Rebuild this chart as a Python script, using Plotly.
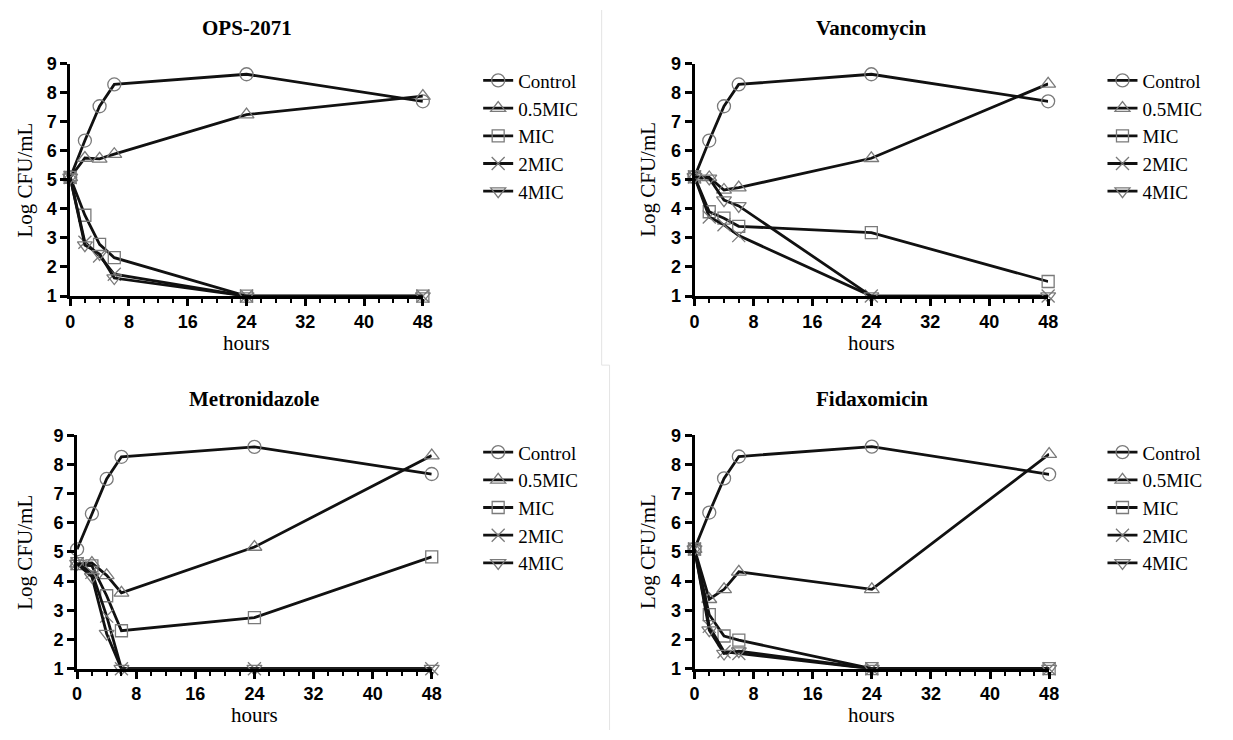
import plotly.graph_objects as go

hours = [0, 2, 4, 6, 24, 48]
series_names = ["Control", "0.5MIC", "MIC", "2MIC", "4MIC"]
panel_titles = ["OPS-2071", "Vancomycin", "Metronidazole", "Fidaxomicin"]
x_ticks = [0, 8, 16, 24, 32, 40, 48]
y_ticks = [1, 2, 3, 4, 5, 6, 7, 8, 9]

ops_control = [5.08, 6.35, 7.53, 8.28, 8.63, 7.70]
ops_half = [5.08, 5.75, 5.72, 5.88, 7.24, 7.88]
ops_mic = [5.08, 3.78, 2.78, 2.32, 1.0, 1.0]
ops_2mic = [5.08, 2.85, 2.38, 1.75, 1.0, 1.0]
ops_4mic = [5.08, 2.75, 2.45, 1.62, 1.0, 1.0]

van_control = [5.10, 6.35, 7.53, 8.28, 8.63, 7.70]
van_half = [5.10, 5.08, 4.65, 4.73, 5.74, 8.30]
van_mic = [5.10, 3.90, 3.68, 3.40, 3.18, 1.50]
van_2mic = [5.10, 3.72, 3.45, 3.08, 1.0, 1.0]
van_4mic = [5.10, 5.05, 4.30, 4.10, 1.0, 1.0]

met_control = [5.09, 6.31, 7.50, 8.26, 8.60, 7.67]
met_half = [4.60, 4.62, 4.20, 3.60, 5.17, 8.30]
met_mic = [4.60, 4.52, 3.50, 2.30, 2.75, 4.83]
met_2mic = [4.60, 4.30, 2.80, 1.0, 1.0, 1.0]
met_4mic = [4.60, 4.15, 2.20, 1.0, 1.0, 1.0]

fid_control = [5.10, 6.35, 7.52, 8.27, 8.61, 7.66]
fid_half = [5.10, 3.38, 3.72, 4.32, 3.72, 8.35]
fid_mic = [5.10, 2.85, 2.12, 1.98, 1.0, 1.0]
fid_2mic = [5.10, 2.45, 1.58, 1.52, 1.0, 1.0]
fid_4mic = [5.10, 2.32, 1.52, 1.60, 1.0, 1.0]

panels = [
    [ops_control, ops_half, ops_mic, ops_2mic, ops_4mic],
    [van_control, van_half, van_mic, van_2mic, van_4mic],
    [met_control, met_half, met_mic, met_2mic, met_4mic],
    [fid_control, fid_half, fid_mic, fid_2mic, fid_4mic],
]

W, H = 1233, 740
symbols = ["circle-open", "triangle-up-open", "square-open", "x-thin-open", "triangle-down-open"]
marker_sizes = [13, 13, 12, 13, 13]

# pixel boxes: (left, right, top, bottom)
boxes = [(66, 423, 55, 294), (698, 1056, 55, 294), (73, 432, 437, 677), (698, 1057, 437, 677)]
legend_text_x = [519, 1151, 519, 1151]
legend_top_y = [53, 53, 435, 435]
ylab_x = [20, 651, 20, 651]

SERIF = "Liberation Serif"
SANS = "Liberation Sans"

fig = go.Figure()
layout_axes = {}
annotations = []
legends = {}

for p, data in enumerate(panels):
    ax = "" if p == 0 else str(p + 1)
    leg = "legend" if p == 0 else f"legend{p + 1}"
    for s, vals in enumerate(data):
        fig.add_trace(go.Scatter(
            x=hours, y=vals, name=series_names[s], mode="lines+markers",
            xaxis="x" + ax, yaxis="y" + ax, legend=leg, cliponaxis=False,
            line=dict(color="#111111", width=2.8),
            marker=dict(symbol=symbols[s], size=marker_sizes[s], color="#7a7a7a",
                        line=dict(color="#7a7a7a", width=1.3)),
        ))
    l, r, t, b = boxes[p]
    xd = [l / W, r / W]
    yd = [1 - b / H, 1 - t / H]
    layout_axes["xaxis" + ax] = dict(
        domain=xd, anchor="y" + ax, range=[0, 48], tickvals=x_ticks,
        ticks="outside", ticklen=7, tickwidth=2.6, tickcolor="black",
        showline=True, linecolor="black", linewidth=2.8, showgrid=False, zeroline=False,
        tickfont=dict(family=SANS, size=18, color="black", weight="bold"),
        minor=dict(dtick=2, tick0=0, ticks="outside", ticklen=4, tickwidth=2, tickcolor="black"),
    )
    layout_axes["yaxis" + ax] = dict(
        domain=yd, anchor="x" + ax, range=[1, 9], tickvals=y_ticks,
        ticks="outside", ticklen=7, tickwidth=2.6, tickcolor="black",
        showline=True, linecolor="black", linewidth=2.8, showgrid=False, zeroline=False,
        tickfont=dict(family=SANS, size=18, color="black", weight="bold"),
    )
    legends[leg] = dict(
        x=(legend_text_x[p] - 40) / W, xanchor="left",
        y=1 - legend_top_y[p] / H, yanchor="top",
        font=dict(family=SERIF, size=19, color="black"),
        bgcolor="rgba(0,0,0,0)", borderwidth=0, tracegroupgap=0,
    )
    cx = (l + r) / 2
    annotations.append(dict(text="<b>" + panel_titles[p] + "</b>", x=cx / W, y=1 - (t - 37) / H,
                            xref="paper", yref="paper", showarrow=False,
                            font=dict(family=SERIF, size=21, color="black"),
                            xanchor="center", yanchor="middle"))
    annotations.append(dict(text="hours", x=cx / W, y=1 - (b + 48) / H,
                            xref="paper", yref="paper", showarrow=False,
                            font=dict(family=SERIF, size=21, color="black"),
                            xanchor="center", yanchor="middle"))
    annotations.append(dict(text="Log CFU/mL", x=ylab_x[p] / W, y=1 - ((t + b) / 2) / H,
                            xref="paper", yref="paper", showarrow=False, textangle=-90,
                            font=dict(family=SERIF, size=21, color="black"),
                            xanchor="center", yanchor="middle"))

shapes = [
    dict(type="line", xref="paper", yref="paper", x0=604 / W, x1=604 / W, y0=1, y1=1 - 365 / H,
         line=dict(color="#e4e4e4", width=1)),
    dict(type="line", xref="paper", yref="paper", x0=604 / W, x1=612 / W, y0=1 - 365 / H, y1=1 - 365 / H,
         line=dict(color="#e4e4e4", width=1)),
    dict(type="line", xref="paper", yref="paper", x0=612 / W, x1=612 / W, y0=1 - 365 / H, y1=0,
         line=dict(color="#e4e4e4", width=1)),
]

fig.update_layout(
    width=W, height=H, margin=dict(l=0, r=0, t=0, b=0),
    paper_bgcolor="white", plot_bgcolor="white",
    annotations=annotations, shapes=shapes, showlegend=True,
    **layout_axes, **legends,
)

fig.write_html("out.html", config={"displayModeBar": False},
               post_script="document.body.style.margin='0';document.body.style.overflow='hidden';")
